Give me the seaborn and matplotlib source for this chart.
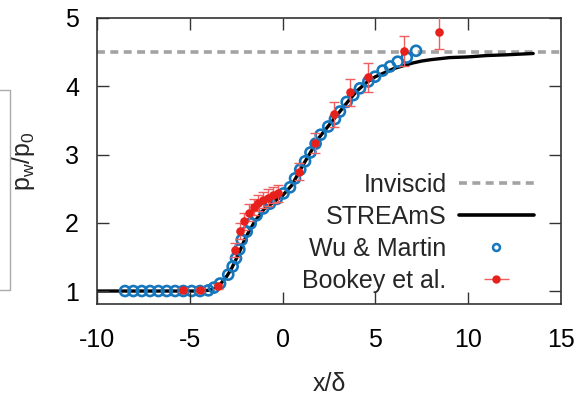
import numpy as np
import pandas as pd
import seaborn as sns
import matplotlib.pyplot as plt
from matplotlib.lines import Line2D

# STREAmS wall pressure (continuous line)
streams_x = [-10, -5, -4.5, -4, -3.5, -3, -2.75, -2.5, -2.25, -2, -1.75, -1.5, -1, -0.5, 0,
             0.5, 1, 1.5, 2, 2.5, 3, 3.5, 4, 4.5, 5, 5.5, 6, 6.5, 7, 7.5, 8, 9, 10, 11, 12, 13.5]
streams_y = [1.0, 1.0, 1.0, 1.01, 1.05, 1.22, 1.33, 1.47, 1.62, 1.78, 1.9, 2.02, 2.2, 2.3, 2.4,
             2.55, 2.8, 3.03, 3.26, 3.43, 3.6, 3.77, 3.93, 4.05, 4.14, 4.2, 4.26, 4.3, 4.34, 4.37,
             4.39, 4.42, 4.43, 4.45, 4.46, 4.48]

# Wu & Martin (open circles)
wu_x = [-8.49, -8.04, -7.59, -7.14, -6.69, -6.24, -5.79, -5.35, -4.9, -4.45, -4.0, -3.7, -3.37,
        -2.93, -2.69, -2.51, -2.33, -2.2, -1.93, -1.72, -1.4, -1.04, -0.68, -0.32, 0.05, 0.4,
        0.67, 0.95, 1.21, 1.5, 1.78, 2.05, 2.46, 2.82, 3.09, 3.45, 3.81, 4.17, 4.62, 4.98, 5.39,
        5.79, 6.2, 6.69, 7.19]
wu_y = [1.0, 1.0, 1.0, 1.0, 1.0, 1.0, 1.0, 1.0, 1.0, 1.0, 1.01, 1.05, 1.11,
        1.24, 1.36, 1.48, 1.61, 1.75, 1.87, 1.99, 2.11, 2.21, 2.28, 2.35, 2.43, 2.52,
        2.65, 2.78, 2.9, 3.03, 3.16, 3.29, 3.41, 3.52, 3.63, 3.77, 3.87, 3.97, 4.07, 4.14, 4.23,
        4.29, 4.36, 4.42, 4.52]

# Bookey et al. (experiment with error bars)
bookey_x = [-5.35, -4.43, -3.5, -2.55, -2.28, -2.06, -1.81, -1.54, -1.31, -1.04, -0.77, -0.5,
            -0.23, 0.9, 1.75, 2.78, 3.65, 4.6, 6.52, 8.45]
bookey_y = [1.01, 1.01, 1.07, 1.6, 1.88, 2.02, 2.15, 2.23, 2.29, 2.33, 2.37, 2.41,
            2.43, 2.75, 3.17, 3.59, 3.91, 4.13, 4.52, 4.79]
bookey_err = [0.03, 0.03, 0.04, 0.1, 0.12, 0.12, 0.12, 0.12, 0.12, 0.12, 0.12, 0.12,
              0.12, 0.13, 0.15, 0.18, 0.2, 0.21, 0.22, 0.24]

inviscid_p = 4.5
xticks = [-10, -5, 0, 5, 10, 15]
yticks = [1, 2, 3, 4, 5]

sns.set_style('ticks')
plt.rcParams['font.family'] = ['Liberation Sans', 'DejaVu Sans']
plt.rcParams['mathtext.fontset'] = 'custom'
plt.rcParams['mathtext.rm'] = 'Liberation Sans'
plt.rcParams['mathtext.it'] = 'Liberation Sans'
fs = 18

blue = '#1677bd'
red = '#e8201c'
gray = '#a3a3a3'
tick_col = '#333333'

fig = plt.figure(figsize=(5.87, 3.97), dpi=100)
ax = fig.add_axes([97 / 587, 1 - 304 / 397, 464 / 587, 286 / 397])

ax.axhline(inviscid_p, color=gray, lw=2.6, dashes=(2.2, 1.5), zorder=1)

streams = pd.DataFrame({'x': streams_x, 'y': streams_y})
sns.lineplot(data=streams, x='x', y='y', color='black', lw=2.4, ax=ax, zorder=2)

wu = pd.DataFrame({'x': wu_x, 'y': wu_y})
sns.scatterplot(data=wu, x='x', y='y', marker='o', s=52, facecolors='none',
                edgecolor=blue, linewidth=1.9, ax=ax, zorder=3)

ax.errorbar(bookey_x, bookey_y, yerr=bookey_err, fmt='none', ecolor='#ee6060',
            elinewidth=1.0, capsize=3.3, capthick=1.0, zorder=4)
sns.scatterplot(x=bookey_x, y=bookey_y, color=red, s=38, edgecolor=red, linewidth=0,
                ax=ax, zorder=5)

ax.set_xlim(-10, 15)
ax.set_ylim(0.81, 5)
ax.set_xticks(xticks)
ax.set_yticks(yticks)
ax.set_xticklabels([str(v) for v in xticks])
ax.tick_params(length=0, labelsize=fs, labelcolor='black')
ax.tick_params(axis='x', pad=17)
ax.tick_params(axis='y', pad=13)

# inward ticks on all four sides (12 px long)
tx = 12 / 286
ty = 12 / 464
ax.vlines(xticks, 0, tx, transform=ax.get_xaxis_transform(), color=tick_col, lw=1, zorder=6)
ax.vlines(xticks, 1 - tx, 1, transform=ax.get_xaxis_transform(), color=tick_col, lw=1, zorder=6)
ax.hlines(yticks, 0, ty, transform=ax.get_yaxis_transform(), color=tick_col, lw=1, zorder=6)
ax.hlines(yticks, 1 - ty, 1, transform=ax.get_yaxis_transform(), color=tick_col, lw=1, zorder=6)

for sp in ax.spines.values():
    sp.set_linewidth(1.1)
    sp.set_color('#222222')
ax.set_xlabel('x/δ', fontsize=fs, labelpad=15)
ax.set_ylabel(r'$\mathregular{p_w/p_0}$', fontsize=fs, labelpad=20)

# legend, text on the left of the samples
h_inv = Line2D([], [], color=gray, lw=2.6, dashes=(2.2, 1.5))
h_str = Line2D([], [], color='black', lw=2.6)
h_wu = Line2D([], [], ls='none', marker='o', markersize=5, mfc='none', mec=blue, mew=1.8)
h_bk = ax.errorbar([], [], xerr=[], fmt='o', color=red, ms=5, ecolor='#ee6060',
                   elinewidth=1.0, capsize=5, capthick=1.0)
ax.legend([h_inv, h_str, h_wu, h_bk], ['Inviscid', 'STREAmS', 'Wu & Martin', 'Bookey et al.'],
          loc='lower right', bbox_to_anchor=(0.966, 0.0), frameon=False, markerfirst=False,
          fontsize=fs, handlelength=3.0, handletextpad=0.5, labelspacing=0.32,
          borderaxespad=0.05)

# grey bracket from neighbouring panel at the left edge
fig.add_artist(Line2D([0, 10 / 587, 10 / 587, 0],
                      [1 - 90 / 397, 1 - 90 / 397, 1 - 290 / 397, 1 - 290 / 397],
                      transform=fig.transFigure, color='#aaaaaa', lw=1.0))

fig.savefig('out.png', dpi=100)
